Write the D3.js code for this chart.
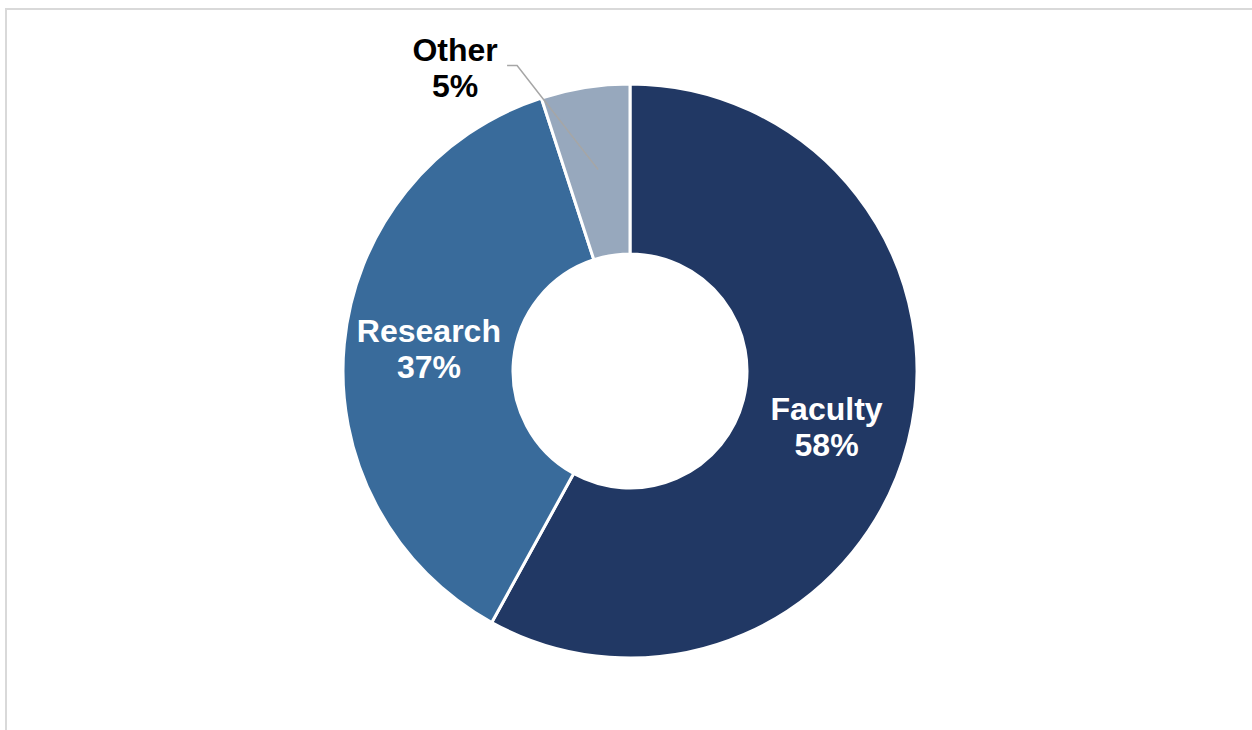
<!DOCTYPE html>
<html>
<head>
<meta charset="utf-8">
<script src="https://cdn.jsdelivr.net/npm/d3@7"></script>
<style>
  html, body { margin: 0; padding: 0; background: #fff; }
  svg { display: block; }
  text { font-family: "Liberation Sans", Arial, sans-serif; font-weight: bold; }
</style>
</head>
<body>
<svg id="chart" width="1252" height="730"></svg>
<script>
const categories = ["Faculty", "Research", "Other"];
const values = [58, 37, 5];
const valueLabels = ["58%", "37%", "5%"];
const colors = ["#213864", "#396b9b", "#97a8bd"];
const labelColors = ["#ffffff", "#ffffff", "#000000"];

const W = 1252, H = 730;
const cx = 630, cy = 371;
const outerR = 287, innerR = 117;

const svg = d3.select("#chart");

// frame
svg.append("rect")
  .attr("x", 6).attr("y", 9)
  .attr("width", 1400).attr("height", 900)
  .attr("fill", "none")
  .attr("stroke", "#d9d9d9")
  .attr("stroke-width", 2);

const data = categories.map((c, i) => ({ name: c, value: values[i], label: valueLabels[i], color: colors[i], tc: labelColors[i] }));

const pie = d3.pie().value(d => d.value).sort(null);
const arcs = pie(data);

const arc = d3.arc().innerRadius(innerR).outerRadius(outerR);
const labelArc = d3.arc().innerRadius(202).outerRadius(206);

const g = svg.append("g").attr("transform", `translate(${cx},${cy})`);

g.selectAll("path.slice")
  .data(arcs)
  .enter().append("path")
  .attr("class", "slice")
  .attr("d", arc)
  .attr("fill", d => d.data.color)
  .attr("stroke", "#ffffff")
  .attr("stroke-width", 3)
  .attr("stroke-linejoin", "miter");

const fs = 32, lh = 36;

arcs.forEach((d, i) => {
  const [x, y] = labelArc.centroid(d);
  if (d.data.name !== "Other") {
    const t = g.append("text")
      .attr("text-anchor", "middle")
      .attr("fill", d.data.tc)
      .attr("font-size", fs);
    const dx = d.data.name === "Faculty" ? -1 : 2;
    const dy = d.data.name === "Faculty" ? 0 : -8;
    t.append("tspan").attr("x", x + dx).attr("y", y + dy - 2).text(d.data.name);
    t.append("tspan").attr("x", x + dx).attr("y", y + dy - 2 + lh).text(d.data.label);
  } else {
    // leader line from centroid up to elbow then horizontal
    const elbow = [x - 81, y - 104];
    const end = [elbow[0] - 10, elbow[1]];
    g.append("polyline")
      .attr("points", [[x, y], elbow, end].map(p => p.join(",")).join(" "))
      .attr("fill", "none")
      .attr("stroke", "#a6a6a6")
      .attr("stroke-width", 1.5);
    const lx = end[0] - 52;
    const t = g.append("text")
      .attr("text-anchor", "middle")
      .attr("fill", d.data.tc)
      .attr("font-size", fs);
    t.append("tspan").attr("x", lx).attr("y", end[1] - 5).text(d.data.name);
    t.append("tspan").attr("x", lx).attr("y", end[1] - 5 + lh).text(d.data.label);
  }
});
</script>
</body>
</html>
